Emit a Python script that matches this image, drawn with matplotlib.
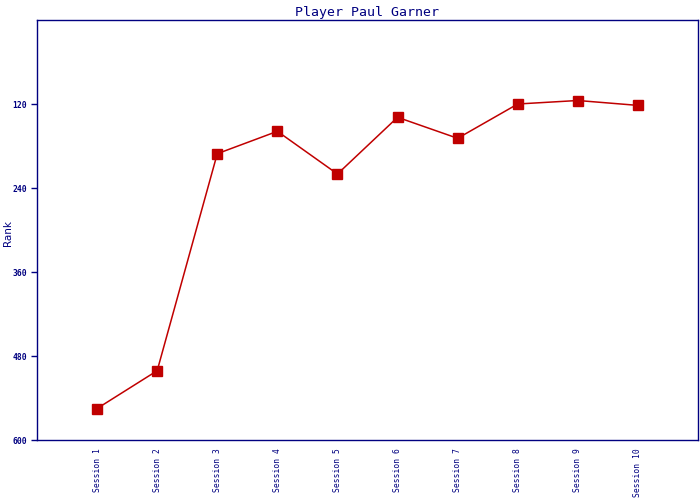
import matplotlib
matplotlib.use('Agg')
import matplotlib.pyplot as plt

sessions = ['Session 1', 'Session 2', 'Session 3', 'Session 4', 'Session 5',
            'Session 6', 'Session 7', 'Session 8', 'Session 9', 'Session 10']
ranks = [555, 501, 191, 159, 220, 139, 169, 120, 115, 122]
y_ticks = [120, 240, 360, 480, 600]

navy = '#000080'
red = '#C00000'

fig = plt.figure(figsize=(7, 5), dpi=100)
ax = fig.add_axes([37 / 700, 0.12, 661 / 700, 0.84])

xs = list(range(1, len(sessions) + 1))
ax.plot(xs, ranks, color=red, lw=1.1, marker='s', ms=7, mec=red, mfc=red)

ax.set_xlim(0, len(sessions) + 1)
ax.set_ylim(600, 0)
ax.set_xticks(xs)
ax.set_xticklabels(sessions, rotation=90, family='DejaVu Sans Mono',
                   fontsize=5.8, color=navy, va='top')
ax.set_yticks(y_ticks)
ax.set_yticklabels([str(v) for v in y_ticks], family='DejaVu Sans Mono',
                   fontsize=5.8, color=navy, fontweight='bold')
ax.tick_params(axis='x', length=0, pad=6)
ax.tick_params(axis='y', length=4, width=1, color=navy, pad=3)

for s in ax.spines.values():
    s.set_color(navy)
    s.set_linewidth(1)

fig.text(8 / 700, 1 - 233 / 500, 'Rank', color=navy, fontsize=7.5,
         rotation=90, ha='center', va='center')
fig.text(367 / 700, 1 - 16 / 500, 'Player Paul Garner', family='DejaVu Sans Mono',
         fontsize=9.5, color=navy, ha='center', va='baseline')

fig.savefig('out.png', dpi=100)
